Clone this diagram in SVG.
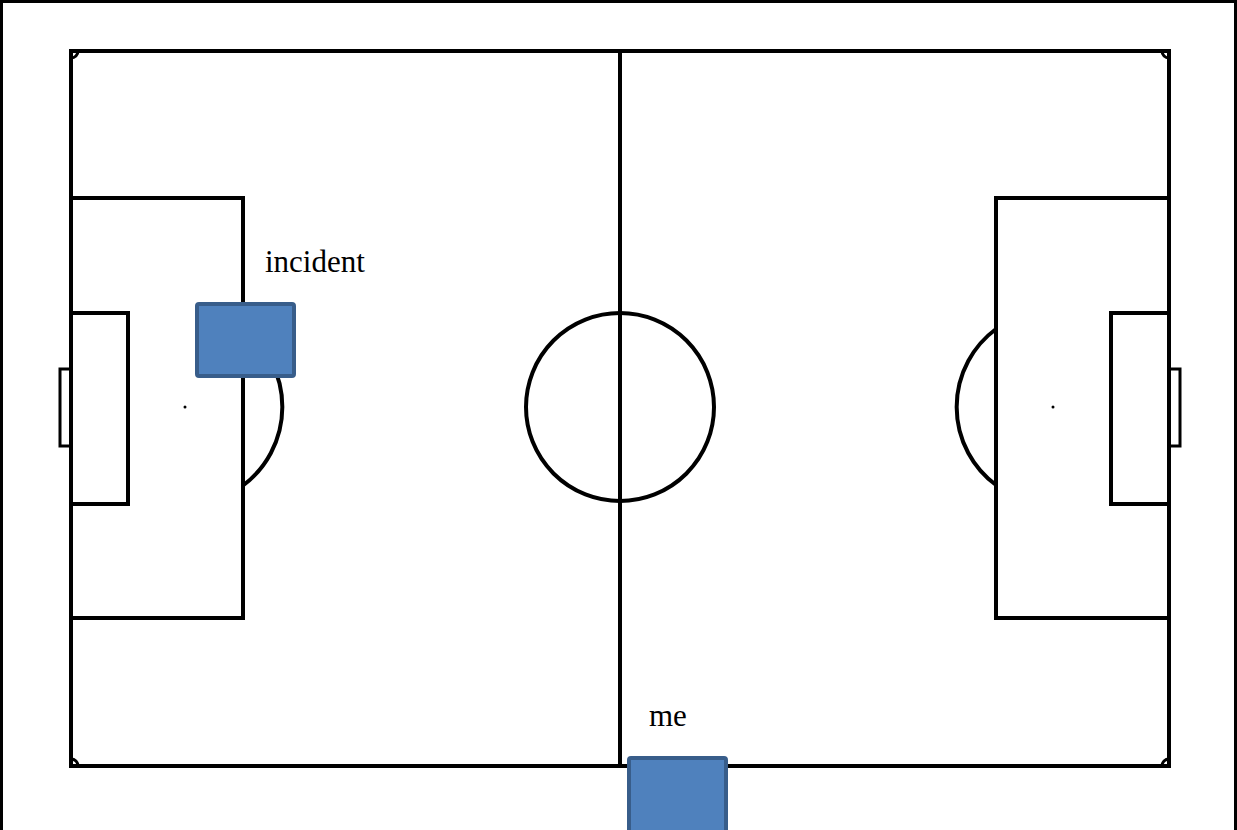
<svg xmlns="http://www.w3.org/2000/svg" width="1237" height="830" viewBox="0 0 1237 830">
<style>
.ln{fill:none;stroke:#000;stroke-width:4}
.thin{fill:none;stroke:#000;stroke-width:3}
.node{fill:#4F81BD;stroke:#385D8A;stroke-width:4}
.lbl{font-family:"Liberation Serif",serif;font-size:31px;fill:#000}
</style>
<rect width="1237" height="830" fill="#fff"/>
<path d="M1.5 830 V1.5 H1235.5 V830" class="thin"/>
<g id="pitch">
<rect x="71" y="51" width="1098" height="715" class="ln"/>
<line x1="620" y1="51" x2="620" y2="766" class="ln"/>
<circle cx="620" cy="407" r="94" class="ln"/>
<path d="M71 58 A7 7 0 0 0 78 51 M1162 51 A7 7 0 0 0 1169 58 M1169 759 A7 7 0 0 0 1162 766 M78 766 A7 7 0 0 0 71 759" class="thin"/>
<rect x="71" y="198" width="172" height="420" class="ln"/>
<rect x="71" y="313" width="57" height="191" class="ln"/>
<rect x="60" y="369" width="11" height="77" class="thin"/>
<circle cx="185" cy="407" r="1.5" fill="#000"/>
<path d="M243 328.5 A98 98 0 0 1 243 485.5" class="ln"/>
<rect x="996" y="198" width="173" height="420" class="ln"/>
<rect x="1111" y="313" width="58" height="191" class="ln"/>
<rect x="1169" y="369" width="11" height="77" class="thin"/>
<circle cx="1053" cy="407" r="1.5" fill="#000"/>
<path d="M996 329 A97 97 0 0 0 996 485" class="ln"/>
</g>
<g id="incident">
<rect x="197" y="304" width="97" height="72" rx="2" class="node"/>
<text x="265" y="272" class="lbl">incident</text>
</g>
<g id="me">
<rect x="629" y="758" width="97" height="80" rx="2" class="node"/>
<text x="649" y="726" class="lbl">me</text>
</g>
<g id="connectors"></g>
</svg>
